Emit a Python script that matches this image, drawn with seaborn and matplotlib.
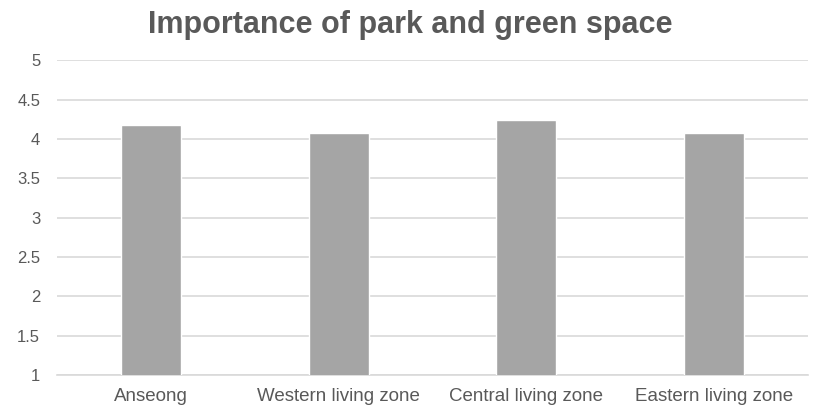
import matplotlib
matplotlib.use("Agg")
import matplotlib.pyplot as plt
import seaborn as sns
import pandas as pd

# -----------------------------
# Data
# -----------------------------
zones = ["Anseong", "Western living zone", "Central living zone", "Eastern living zone"]
importance = [4.18, 4.08, 4.24, 4.07]
y_ticks = [1, 1.5, 2, 2.5, 3, 3.5, 4, 4.5, 5]
y_tick_labels = ["1", "1.5", "2", "2.5", "3", "3.5", "4", "4.5", "5"]
title = "Importance of park and green space"

# -----------------------------
# Plot
# -----------------------------
sns.set_theme(style="white")
plt.rcParams["font.family"] = ["Liberation Sans", "DejaVu Sans"]

df = pd.DataFrame({"zone": zones, "importance": importance})

fig = plt.figure(figsize=(8.13, 4.15), dpi=100)
ax = fig.add_axes([0.070, 0.096, 0.924, 0.759])

sns.barplot(data=df, x="zone", y="importance", color="#a5a5a5", width=0.32,
            saturation=1, ax=ax, zorder=3)

ax.set_ylim(1, 5)
ax.set_yticks(y_ticks)
ax.set_yticklabels(y_tick_labels)
ax.yaxis.grid(True, color="#d9d9d9", linewidth=1.2, zorder=0)
ax.set_axisbelow(True)
ax.set_xlabel("")
ax.set_ylabel("")

for side in ["top", "right", "left"]:
    ax.spines[side].set_visible(False)
ax.spines["bottom"].set_color("#d9d9d9")
ax.spines["bottom"].set_linewidth(1.2)

ax.tick_params(axis="x", length=0, colors="#595959", labelsize=13.5, pad=9)
ax.tick_params(axis="y", length=0, colors="#595959", labelsize=12, pad=12)

fig.suptitle(title, x=0.505, y=0.975, fontsize=22, fontweight="bold", color="#595959")

fig.savefig("out.png", dpi=100)
